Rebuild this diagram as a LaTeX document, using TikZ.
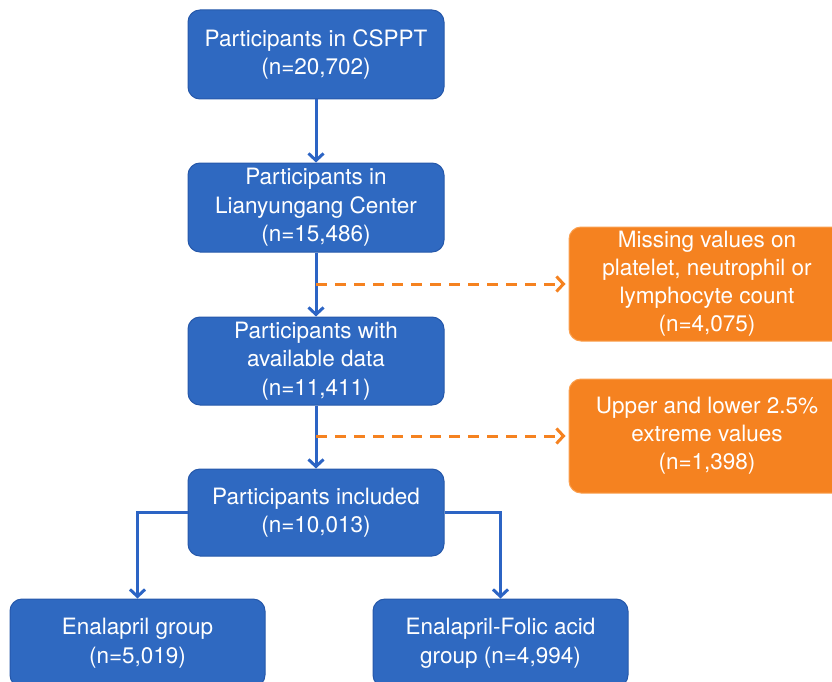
\documentclass[tikz,border=0pt]{standalone}
\usepackage{fontspec}
\setmainfont{TeX Gyre Heros}
\usetikzlibrary{arrows.meta}
\definecolor{boxblue}{RGB}{47,105,193}
\definecolor{boxblueedge}{RGB}{38,88,170}
\definecolor{lineblue}{RGB}{44,100,196}
\definecolor{boxorange}{RGB}{245,130,32}
\definecolor{boxorangeedge}{RGB}{250,160,80}
\tikzset{
  bluebox/.style={rectangle, rounded corners=12pt, fill=boxblue, draw=boxblueedge, line width=1pt,
    text=white, align=center, inner sep=0pt, minimum width=256pt,
    font=\fontsize{22.5}{28.5}\selectfont},
  orangebox/.style={rectangle, rounded corners=12pt, fill=boxorange, draw=boxorangeedge, line width=1pt,
    text=white, align=center, inner sep=0pt, minimum width=276pt,
    font=\fontsize{22.5}{28}\selectfont},
  arr/.style={draw=lineblue, line width=3pt, -{Straight Barb[length=7pt,width=15pt,line width=3pt]}},
  darr/.style={draw=boxorange, line width=3pt, dash pattern=on 11pt off 8pt,
    -{Straight Barb[length=7pt,width=15pt,line width=3pt]}}
}
\begin{document}
\begin{tikzpicture}[x=1pt,y=1pt]
\useasboundingbox (0,0) rectangle (832,-682);
\clip (0,0) rectangle (832,-682);
\node[bluebox, minimum height=89pt] (b1) at (316,-54.5) {Participants in CSPPT\\(n=20,702)};
\node[bluebox, minimum height=89pt] (b2) at (316,-207.5) {Participants in\\Lianyungang Center\\(n=15,486)};
\node[bluebox, minimum height=88pt] (b3) at (316,-361) {Participants with\\available data\\(n=11,411)};
\node[bluebox, minimum height=87pt] (b4) at (316,-512.5) {Participants included\\(n=10,013)};
\node[bluebox, minimum width=255pt, minimum height=88pt] (e1) at (137.5,-643) {Enalapril group\\(n=5,019)};
\node[bluebox, minimum width=255pt, minimum height=88pt] (e2) at (500.5,-643) {Enalapril-Folic acid\\group (n=4,994)};
\node[orangebox, minimum height=114pt] (o1) at (707,-284) {Missing values on\\platelet, neutrophil or\\lymphocyte count\\(n=4,075)};
\node[orangebox, minimum height=114pt] (o2) at (707,-436) {Upper and lower 2.5\%\\extreme values\\(n=1,398)};
\coordinate (s1) at (316,-284);
\coordinate (s2) at (316,-436);
\draw[arr] (b1.south) -- (b2.north);
\draw[arr] (b2.south) -- (b3.north);
\draw[arr] (b3.south) -- (b4.north);
\draw[darr] (s1) -- ([xshift=-3pt]o1.west);
\draw[darr] (s2) -- ([xshift=-3pt]o2.west);
\draw[arr] (b4.west) -| (e1.north);
\draw[arr] (b4.east) -| (e2.north);
\end{tikzpicture}
\end{document}
